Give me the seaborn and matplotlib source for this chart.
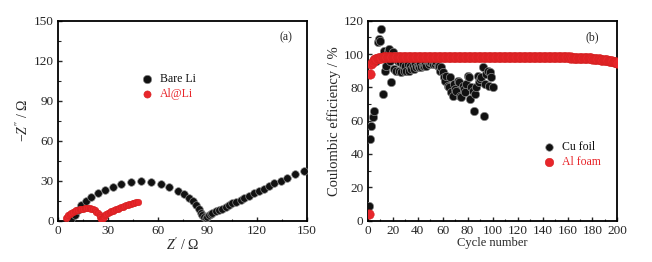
import matplotlib.pyplot as plt
import numpy as np
import pandas as pd
import seaborn as sns
from matplotlib.ticker import MultipleLocator

# EIS data (panel a)
bare_li_zre = [8, 10, 12, 14, 17, 20, 24, 28, 33, 38, 44, 50, 56, 62, 67, 72, 76, 79,
               81, 83, 85, 86, 87, 88, 89, 90, 91, 92, 93, 95, 97, 99, 101, 103, 105,
               107, 110, 112, 115, 118, 121, 124, 127, 130, 134, 138, 143, 148]
bare_li_zim = [1, 4, 8, 12, 15, 18, 21, 23, 25.5, 27.5, 29, 29.5, 29, 27.5, 25.5, 22.5, 20, 17,
               14.5, 11.5, 8.5, 6, 4, 2.5, 2, 3, 4, 5, 6, 7, 8, 9, 10.5, 11.5, 13,
               14, 15.5, 17, 18.5, 20.5, 22, 24, 26, 28, 30, 32, 35, 37]

al_li_zre = [5, 5.5, 6, 7, 8, 9, 10, 11, 12, 13, 14, 15, 16, 17, 18, 19, 20, 21, 22, 23,
             24, 25, 25.5, 26, 26.5, 27, 27.5, 28, 29, 30, 31, 32, 33, 34, 35, 36, 37,
             38, 39, 40, 41, 42, 43, 44, 45, 46, 47, 48]
al_li_zim = [2, 3, 4, 5, 6, 6.7, 7.3, 7.8, 8.2, 8.5, 8.8, 9, 9.1, 9.2, 9.2, 9.1, 8.9, 8.5, 7.8, 6.8,
             5.5, 4, 2.5, 1.5, 1.2, 2, 3, 4, 5, 5.8, 6.4, 7, 7.5, 8, 8.5, 9, 9.5,
             10, 10.5, 11, 11.5, 12, 12.4, 12.8, 13.2, 13.5, 13.8, 14]

# Coulombic efficiency (panel b)
cu_foil_ce = [9, 49, 57, 62, 66, 97, 96, 107, 109, 108,
              115, 76, 102, 90, 93, 102, 103, 96, 83, 101,
              91, 99, 90, 96, 90, 95, 89, 94, 90, 93,
              90, 94, 90, 93, 91, 93, 91, 94, 92, 93,
              92, 94, 92, 93, 93, 94, 93, 95, 94, 95,
              95, 94, 96, 94, 95, 93, 93, 90, 92, 89,
              86, 84, 87, 81, 80, 86, 77, 75, 82, 79,
              78, 84, 83, 75, 74, 81, 79, 77, 82, 87,
              86, 73, 80, 78, 66, 76, 80, 87, 83, 85,
              86, 92, 63, 82, 88, 90, 81, 89, 86, 80]

al_foam_ce = [4, 88, 94, 95.5, 96.5, 97, 97.3, 97.5, 97.7, 97.8,
              97.9, 98, 98, 98.1, 98, 98.1, 98.2, 98, 98.1, 98.2,
              98.1, 98.2, 98, 98.2, 98.1, 98.3, 98.2, 98.1, 98.3, 98.2,
              98.1, 98.2, 98.3, 98.2, 98.1, 98.2, 98.3, 98.2, 98.2, 98.1,
              98.2, 98.3, 98.1, 98.2, 98.3, 98.2, 98.1, 98.2, 98.3, 98.2,
              98.2, 98.1, 98.3, 98.2, 98.2, 98.3, 98.1, 98.2, 98.3, 98.2,
              98.2, 98.3, 98.2, 98.1, 98.3, 98.2, 98.2, 98.3, 98.2, 98.1,
              98.3, 98.2, 98.2, 98.3, 98.1, 98.2, 98.3, 98.2, 98.2, 98.3,
              98.2, 98.1, 98.3, 98.2, 98.3, 98.2, 98.2, 98.3, 98.1, 98.2,
              98.3, 98.2, 98.2, 98.3, 98.2, 98.1, 98.3, 98.2, 98.2, 98.3,
              98.2, 98.3, 98.1, 98.2, 98.3, 98.2, 98.2, 98.3, 98.2, 98.1,
              98.3, 98.2, 98.2, 98.3, 98.2, 98.2, 98.3, 98.1, 98.2, 98.3,
              98.2, 98.2, 98.3, 98.2, 98.1, 98.3, 98.2, 98.2, 98.3, 98.2,
              98.2, 98.1, 98.3, 98.2, 98.2, 98.3, 98.2, 98.1, 98.2, 98.3,
              98.2, 98.2, 98.1, 98.3, 98.2, 98.2, 98.1, 98.2, 98.2, 98.1,
              98.2, 98.1, 98.2, 98.1, 98.1, 98.2, 98.0, 98.1, 98.0, 98.1,
              98.0, 97.9, 98.0, 97.9, 97.9, 97.8, 97.9, 97.8, 97.8, 97.7,
              97.8, 97.7, 97.6, 97.7, 97.6, 97.5, 97.5, 97.4, 97.4, 97.3,
              97.3, 97.2, 97.1, 97.0, 96.9, 96.8, 96.7, 96.6, 96.5, 96.4,
              96.3, 96.2, 96.0, 95.9, 95.8, 95.6, 95.5, 95.3, 95.1, 94.8]

eis = pd.concat([
    pd.DataFrame({'zre': bare_li_zre, 'zim': bare_li_zim, 'sample': 'Bare Li'}),
    pd.DataFrame({'zre': al_li_zre, 'zim': al_li_zim, 'sample': 'Al@Li'}),
])
ce = pd.concat([
    pd.DataFrame({'cycle': np.arange(1, len(cu_foil_ce) + 1), 'ce': cu_foil_ce, 'sample': 'Cu foil'}),
    pd.DataFrame({'cycle': np.arange(1, len(al_foam_ce) + 1), 'ce': al_foam_ce, 'sample': 'Al foam'}),
])

sns.set_style('ticks')
plt.rcParams['font.family'] = ['Liberation Serif', 'DejaVu Serif']
plt.rcParams['mathtext.fontset'] = 'custom'
plt.rcParams['mathtext.rm'] = 'Liberation Serif'
plt.rcParams['mathtext.it'] = 'Liberation Serif:italic'
plt.rcParams['axes.linewidth'] = 1.3

black, red = '#111111', '#e8262b'
edge_black, edge_red = '#8a8a8a', '#d42020'

fig = plt.figure(figsize=(6.52, 2.62), dpi=100)
ax1 = fig.add_axes([0.089, 0.158, 0.382, 0.763])
ax2 = fig.add_axes([0.564, 0.158, 0.383, 0.763])

# panel (a)
sns.scatterplot(data=eis[eis['sample'] == 'Bare Li'], x='zre', y='zim', ax=ax1,
                color=black, edgecolor=edge_black, linewidth=0.5, s=30, label='Bare Li', zorder=3)
sns.scatterplot(data=eis[eis['sample'] == 'Al@Li'], x='zre', y='zim', ax=ax1,
                color=red, edgecolor=edge_red, linewidth=0.4, s=22, label='Al@Li', zorder=4)
ax1.set_xlim(0, 150)
ax1.set_ylim(0, 150)
ax1.xaxis.set_major_locator(MultipleLocator(30))
ax1.yaxis.set_major_locator(MultipleLocator(30))
ax1.xaxis.set_minor_locator(MultipleLocator(15))
ax1.yaxis.set_minor_locator(MultipleLocator(15))
ax1.set_xlabel(r"$Z'$ / Ω", fontsize=10, labelpad=0)
ax1.set_ylabel(r"$-Z''$ / Ω", fontsize=10, labelpad=2)
ax1.text(0.915, 0.915, '(a)', transform=ax1.transAxes, ha='center', va='center', fontsize=8.5)
leg1 = ax1.legend(loc='upper left', bbox_to_anchor=(0.29, 0.76), frameon=False, fontsize=8.5,
                  handletextpad=0.1, borderaxespad=0, labelspacing=0.2, markerscale=1.1)
for t, c in zip(leg1.get_texts(), [black, red]):
    t.set_color(c)

# panel (b)
sns.scatterplot(data=ce[ce['sample'] == 'Cu foil'], x='cycle', y='ce', ax=ax2,
                color=black, edgecolor=edge_black, linewidth=0.5, s=36, label='Cu foil', zorder=3)
sns.scatterplot(data=ce[ce['sample'] == 'Al foam'], x='cycle', y='ce', ax=ax2,
                color=red, edgecolor=edge_red, linewidth=0.4, s=46, label='Al foam', zorder=4)
ax2.set_xlim(0, 200)
ax2.set_ylim(0, 120)
ax2.xaxis.set_major_locator(MultipleLocator(20))
ax2.yaxis.set_major_locator(MultipleLocator(20))
ax2.xaxis.set_minor_locator(MultipleLocator(10))
ax2.yaxis.set_minor_locator(MultipleLocator(10))
ax2.set_xlabel('Cycle number', fontsize=9, labelpad=0)
ax2.set_ylabel('Coulombic efficiency / %', fontsize=10.5, labelpad=2)
ax2.text(0.9, 0.915, '(b)', transform=ax2.transAxes, ha='center', va='center', fontsize=8.5)
leg2 = ax2.legend(loc='upper left', bbox_to_anchor=(0.66, 0.42), frameon=False, fontsize=8.5,
                  handletextpad=0.1, borderaxespad=0, labelspacing=0.2, markerscale=0.9)
for t, c in zip(leg2.get_texts(), [black, red]):
    t.set_color(c)

for ax in (ax1, ax2):
    ax.tick_params(which='both', direction='in', top=False, right=False, labelsize=9.5, pad=3)
    ax.tick_params(which='major', length=3, width=1)
    ax.tick_params(which='minor', length=1.8, width=0.8)
    for sp in ax.spines.values():
        sp.set_visible(True)
        sp.set_color('black')

fig.savefig('out.png', dpi=100)
